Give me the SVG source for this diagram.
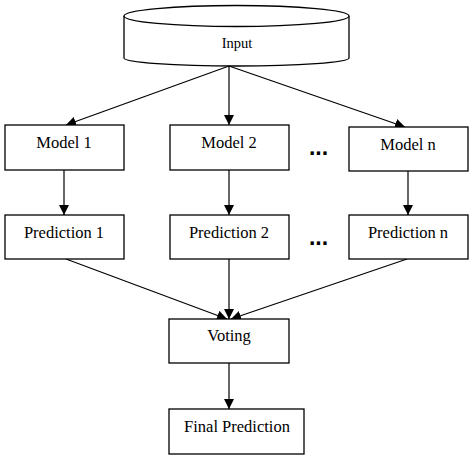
<svg xmlns="http://www.w3.org/2000/svg" width="474" height="461" viewBox="0 0 474 461">
<defs>
<style>
.box{fill:#fff;stroke:#000;stroke-width:1.3}
.t{font-family:"Liberation Serif","Times New Roman",serif;font-size:16.5px;fill:#000;text-anchor:middle}
.dots{font-family:"Liberation Sans",Arial,sans-serif;font-size:23px;font-weight:bold;fill:#000;text-anchor:middle}
.c{stroke:#000;stroke-width:1.2;fill:none;marker-end:url(#ah)}
</style>
<marker id="ah" viewBox="0 0 10 10" refX="10" refY="5" markerWidth="10" markerHeight="10" markerUnits="userSpaceOnUse" orient="auto">
<path d="M0,0 L10,5 L0,10 z" fill="#000"/>
</marker>
</defs>
<rect width="474" height="461" fill="#fff"/>
<g id="input">
<path class="box" d="M124,16 L124,58 A112.5,8 0 0 0 349,58 L349,16"/>
<ellipse class="box" cx="236.5" cy="16" rx="112.5" ry="10.5"/>
<text class="t" x="237" y="48" style="font-size:14.5px">Input</text>
</g>
<g id="connectors">
<line class="c" x1="229" y1="66" x2="66" y2="125"/>
<line class="c" x1="229" y1="66" x2="229" y2="125"/>
<line class="c" x1="229" y1="66" x2="405" y2="127"/>
<line class="c" x1="64" y1="170" x2="64" y2="215"/>
<line class="c" x1="229" y1="170" x2="229" y2="215"/>
<line class="c" x1="408" y1="171" x2="408" y2="215"/>
<line class="c" x1="66" y1="259" x2="227" y2="319"/>
<line class="c" x1="229" y1="259" x2="229" y2="319"/>
<line class="c" x1="407" y1="259" x2="231" y2="319"/>
<line class="c" x1="229" y1="363" x2="229" y2="409"/>
</g>
<g id="model1"><rect class="box" x="5" y="125" width="119" height="45"/><text class="t" x="64" y="148">Model 1</text></g>
<g id="model2"><rect class="box" x="170" y="125" width="119" height="45"/><text class="t" x="229" y="148">Model 2</text></g>
<g id="modeln"><rect class="box" x="349" y="127" width="119" height="44"/><text class="t" x="408" y="150">Model n</text></g>
<g id="pred1"><rect class="box" x="5" y="215" width="119" height="44"/><text class="t" x="64" y="238">Prediction 1</text></g>
<g id="pred2"><rect class="box" x="170" y="215" width="119" height="44"/><text class="t" x="229" y="238">Prediction 2</text></g>
<g id="predn"><rect class="box" x="349" y="215" width="119" height="44"/><text class="t" x="408" y="238">Prediction n</text></g>
<g id="dots1"><text class="dots" x="318.5" y="155">...</text></g>
<g id="dots2"><text class="dots" x="318.5" y="245">...</text></g>
<g id="voting"><rect class="box" x="169" y="319" width="120" height="44"/><text class="t" x="229" y="341">Voting</text></g>
<g id="final"><rect class="box" x="169" y="409" width="135" height="45"/><text class="t" x="237" y="432">Final Prediction</text></g>
</svg>
